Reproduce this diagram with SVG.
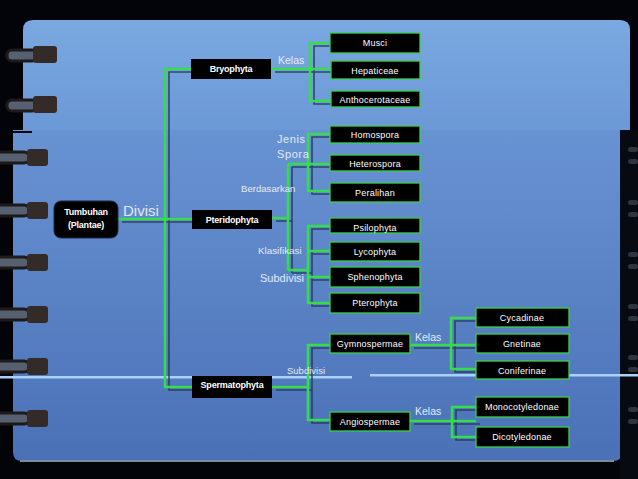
<svg xmlns="http://www.w3.org/2000/svg" width="638" height="479" viewBox="0 0 638 479">
<defs>
<linearGradient id="gUp" x1="0" y1="0" x2="0" y2="1"><stop offset="0" stop-color="#7aa8e0"/><stop offset="1" stop-color="#6b98d6"/></linearGradient>
<linearGradient id="gLo" x1="0" y1="0" x2="0" y2="1"><stop offset="0" stop-color="#6893d3"/><stop offset="1" stop-color="#4a71b6"/></linearGradient>
<g id="ringA"><rect x="7" y="-5" width="30" height="11" rx="5" fill="#56606e" stroke="#1d1a19" stroke-width="3"/><rect x="33" y="-9" width="24" height="17" rx="3" fill="#342a27"/></g>
<g id="ringB"><rect x="-4" y="-5" width="33" height="11" rx="5" fill="#56606e" stroke="#1d1a19" stroke-width="3"/><rect x="27" y="-8" width="21" height="17" rx="3" fill="#342a27"/></g>
<g id="ringR"><rect x="628" y="-3" width="10" height="5" rx="2.5" fill="#2e3440"/><rect x="628" y="9" width="10" height="5" rx="2.5" fill="#2e3440"/></g>
</defs>
<style>
.ln{fill:none;stroke:#35dc4c;stroke-width:2.5;stroke-linejoin:miter}
.sh{fill:none;stroke:#25365a;stroke-width:1.6;opacity:0.85}
.main{fill:#000}
.leaf{fill:#000;stroke:#3bcf4f;stroke-width:1.3}
.tm{font-family:"Liberation Sans",Arial,sans-serif;font-size:9px;font-weight:bold;fill:#fff;text-anchor:middle;letter-spacing:-0.2px}
.tl{font-family:"Liberation Sans",Arial,sans-serif;font-size:9px;fill:#fff;text-anchor:middle;letter-spacing:0.2px}
.lb{font-family:"Liberation Sans",Arial,sans-serif;font-size:10.5px;fill:#e3ebf7}
</style>
<rect width="638" height="479" fill="#03040a"/>
<path d="M23,135 V30 Q23,20 33,20 H620 Q630,20 630,30 V135 Z" fill="url(#gUp)"/>
<path d="M13,130 H622 V452 Q622,461 613,461 H22 Q13,461 13,452 Z" fill="url(#gLo)"/>
<path d="M20,461 H614" stroke="#7f8a9c" stroke-width="2"/>
<rect x="0" y="131" width="32" height="2" fill="#03040a"/>
<rect x="620" y="130" width="18" height="349" fill="#080a12"/>
<rect x="0" y="376" width="352" height="2.5" fill="#a9d2fa"/>
<rect x="370" y="374" width="268" height="2.5" fill="#a9d2fa"/>
<use href="#ringA" y="55"/><use href="#ringA" y="105"/>
<use href="#ringB" y="157"/><use href="#ringB" y="210"/><use href="#ringB" y="262"/><use href="#ringB" y="314"/><use href="#ringB" y="366"/><use href="#ringB" y="418"/>
<use href="#ringR" y="150"/><use href="#ringR" y="203"/><use href="#ringR" y="255"/><use href="#ringR" y="307"/><use href="#ringR" y="358"/><use href="#ringR" y="410"/>

<g id="connectors">
<g class="sh" transform="translate(4,3)">
<path d="M118,219 H192 M191,69 H165 V387 H192"/>
<path d="M271,69 H330 M330,43 H310 V101 H330"/>
<path d="M272,218 H288 M288,164 V270 M288,164 H330 M330,134 H308 V191 H330 M288,270 H308 M330,226 H308 V303 H330 M308,251 H330 M308,277 H330"/>
<path d="M272,387 H308 M330,345 H308 V420 H330"/>
<path d="M410,345 H476 M476,318 H451 V369 H476 M410,421 H476 M476,407 H452 V437 H476"/>
</g>
<g class="ln">
<path d="M118,219 H192 M191,69 H165 V387 H192"/>
<path d="M271,69 H330 M330,43 H310 V101 H330"/>
<path d="M272,218 H288 M288,164 V270 M288,164 H330 M330,134 H308 V191 H330 M288,270 H308 M330,226 H308 V303 H330 M308,251 H330 M308,277 H330"/>
<path d="M272,387 H308 M330,345 H308 V420 H330"/>
<path d="M410,345 H476 M476,318 H451 V369 H476 M410,421 H476 M476,407 H452 V437 H476"/>
</g>
</g>

<g id="labels">
<text class="lb" x="123" y="216" style="font-size:15px;fill:#dfe8f7">Divisi</text>
<text class="lb" x="278" y="64">Kelas</text>
<text class="lb" x="277" y="143" style="font-size:11px;letter-spacing:0.6px">Jenis</text>
<text class="lb" x="277" y="158" style="font-size:11px;letter-spacing:0.6px">Spora</text>
<text class="lb" x="241" y="192" style="font-size:9.6px">Berdasarkan</text>
<text class="lb" x="258" y="254" style="font-size:9.8px">Klasifikasi</text>
<text class="lb" x="260" y="282" style="font-size:11px">Subdivisi</text>
<text class="lb" x="287" y="374" style="font-size:9.5px">Subdivisi</text>
<text class="lb" x="415" y="341">Kelas</text>
<text class="lb" x="415" y="415">Kelas</text>
</g>

<g id="n-tumbuhan"><rect x="54" y="201" width="64" height="37" rx="7" fill="#000" stroke="#1b2b44" stroke-width="1"/><text class="tm" x="86" y="215">Tumbuhan</text><text class="tm" x="86" y="228">(Plantae)</text></g>
<g id="n-bryophyta"><rect class="main" x="191" y="59" width="80" height="20"/><text class="tm" x="231" y="72">Bryophyta</text></g>
<g id="n-pteridophyta"><rect class="main" x="192" y="210" width="80" height="19"/><text class="tm" x="232" y="222.5">Pteridophyta</text></g>
<g id="n-spermatophyta"><rect class="main" x="192" y="376" width="80" height="22"/><text class="tm" x="232" y="388">Spermatophyta</text></g>

<g id="n-musci"><rect class="leaf" x="330" y="33" width="90" height="20"/><text class="tl" x="375" y="46">Musci</text></g>
<g id="n-hepaticeae"><rect class="leaf" x="331" y="61" width="89" height="18"/><text class="tl" x="375" y="74">Hepaticeae</text></g>
<g id="n-anthocerotaceae"><rect class="leaf" x="331" y="91" width="89" height="16"/><text class="tl" x="375" y="103">Anthocerotaceae</text></g>
<g id="n-homospora"><rect class="leaf" x="330" y="126" width="90" height="17"/><text class="tl" x="375" y="138">Homospora</text></g>
<g id="n-heterospora"><rect class="leaf" x="330" y="155" width="90" height="16"/><text class="tl" x="375" y="167">Heterospora</text></g>
<g id="n-peralihan"><rect class="leaf" x="330" y="183" width="90" height="19"/><text class="tl" x="375" y="196">Peralihan</text></g>
<g id="n-psilophyta"><rect class="leaf" x="330" y="218" width="90" height="15"/><text class="tl" x="375" y="231">Psilophyta</text></g>
<g id="n-lycophyta"><rect class="leaf" x="330" y="242" width="90" height="19"/><text class="tl" x="375" y="255">Lycophyta</text></g>
<g id="n-sphenophyta"><rect class="leaf" x="330" y="267" width="90" height="20"/><text class="tl" x="375" y="280">Sphenophyta</text></g>
<g id="n-pterophyta"><rect class="leaf" x="330" y="293" width="90" height="20"/><text class="tl" x="375" y="306">Pterophyta</text></g>
<g id="n-gymnospermae"><rect class="leaf" x="330" y="334" width="80" height="19"/><text class="tl" x="370" y="347">Gymnospermae</text></g>
<g id="n-angiospermae"><rect class="leaf" x="330" y="412" width="80" height="19"/><text class="tl" x="370" y="425">Angiospermae</text></g>
<g id="n-cycadinae"><rect class="leaf" x="476" y="308" width="93" height="19"/><text class="tl" x="522" y="321">Cycadinae</text></g>
<g id="n-gnetinae"><rect class="leaf" x="476" y="334" width="93" height="19"/><text class="tl" x="522" y="347">Gnetinae</text></g>
<g id="n-coniferinae"><rect class="leaf" x="476" y="361" width="93" height="18"/><text class="tl" x="522" y="374">Coniferinae</text></g>
<g id="n-monocotyledonae"><rect class="leaf" x="476" y="397" width="93" height="20"/><text class="tl" x="522" y="410">Monocotyledonae</text></g>
<g id="n-dicotyledonae"><rect class="leaf" x="476" y="427" width="93" height="20"/><text class="tl" x="522" y="440">Dicotyledonae</text></g>
</svg>
